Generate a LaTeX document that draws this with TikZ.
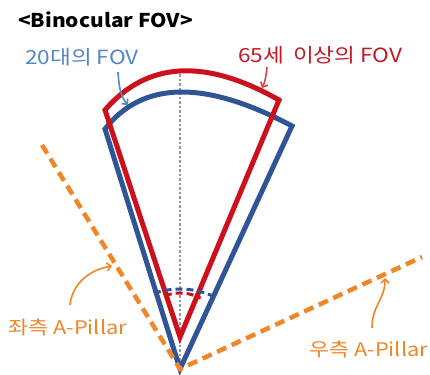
\documentclass[tikz,border=0pt]{standalone}
\usepackage{fontspec}
\setmainfont{Noto Sans CJK KR}
\newfontfamily\krwide{Noto Sans CJK KR}[FakeStretch=1.16]
\newfontfamily\krtitle{Noto Sans CJK KR}[FakeStretch=1.1]
\usetikzlibrary{arrows.meta,calc}
\definecolor{wblue}{RGB}{47,85,151}
\definecolor{wred}{RGB}{204,16,28}
\definecolor{worange}{RGB}{240,134,40}
\definecolor{tblue}{RGB}{84,134,200}
\definecolor{tred}{RGB}{196,24,34}
\definecolor{tgray}{RGB}{150,150,150}
\begin{document}
\begin{tikzpicture}[x=1pt,y=-1pt,
  wedge/.style={line width=5pt,line join=miter},
  pillar/.style={worange,line width=4.5pt,dash pattern=on 10pt off 6pt},
  anglearc/.style={line width=3pt,dash pattern=on 7pt off 4pt},
  lbl/.style={inner sep=0pt,anchor=base west,font=\krwide\fontsize{19.5}{22}\selectfont},
  plbl/.style={lbl,text=worange,font=\krwide\fontsize{18.8}{22}\selectfont},
  pointer/.style={line width=1.6pt,-{Straight Barb[length=4pt,width=8pt]}}]
\useasboundingbox (0,0) rectangle (430,374);
% key points
\coordinate (bA) at (180,369);
\coordinate (bL) at (105,129);
\coordinate (bR) at (292,126);
\coordinate (rA) at (180,337);
\coordinate (rL) at (105,110);
\coordinate (rR) at (279,100);
\coordinate (gT) at (180,70);
\coordinate (gB) at (180,370);
\coordinate (pL) at (42,145);
\coordinate (pR) at (422,257);
% centre line
\draw[tgray,line width=2.5pt,dash pattern=on 2.5pt off 2pt] (gT) -- (gB);
% blue wedge
\draw[wblue,wedge] (bA) -- (bL) .. controls (142.7,80.7) and (205,79.7) .. (bR) -- cycle;
% red wedge
\draw[wred,wedge] (rA) -- (rL) .. controls (147,61.3) and (205,58) .. (rR) -- cycle;
% angle arcs
\draw[wblue,anglearc] ($(bA)+(251:80)$) arc[start angle=251,end angle=295,radius=80];
\draw[wred,anglearc] ($(rA)+(250:44)$) arc[start angle=250,end angle=298,radius=44];
% A-pillars
\draw[pillar] (pL) -- (bA) -- (pR);
% labels
\node[lbl,font=\krtitle\fontsize{19}{22}\selectfont\bfseries] (title) at (18,28) {<Binocular FOV>};
\node[lbl,text=tblue] (young) at (25,65) {20대의 FOV};
\node[lbl,text=tred] (old) at (238,63) {65세\hspace{4pt} 이상의 FOV};
\node[plbl] (lp) at (8,334) {좌측 A-Pillar};
\node[plbl] (rp) at (309,356) {우측 A-Pillar};
% pointers
\coordinate (yS) at (118,72);
\coordinate (yE) at (128,105);
\coordinate (oS) at (267,67);
\coordinate (oE) at (262,88);
\coordinate (lS) at (70,305);
\coordinate (lE) at (112,266);
\coordinate (rS) at (372,328);
\coordinate (rE) at (385,278);
\draw[pointer,tblue] (yS) .. controls (119,88) and (121,97) .. (yE);
\draw[pointer,tred!80] (oS) .. controls (266,77) and (265,82) .. (oE);
\draw[pointer,worange] (lS) .. controls (72,285) and (88,270) .. (lE);
\draw[pointer,worange] (rS) .. controls (372,305) and (385,300) .. (rE);
\end{tikzpicture}
\end{document}
